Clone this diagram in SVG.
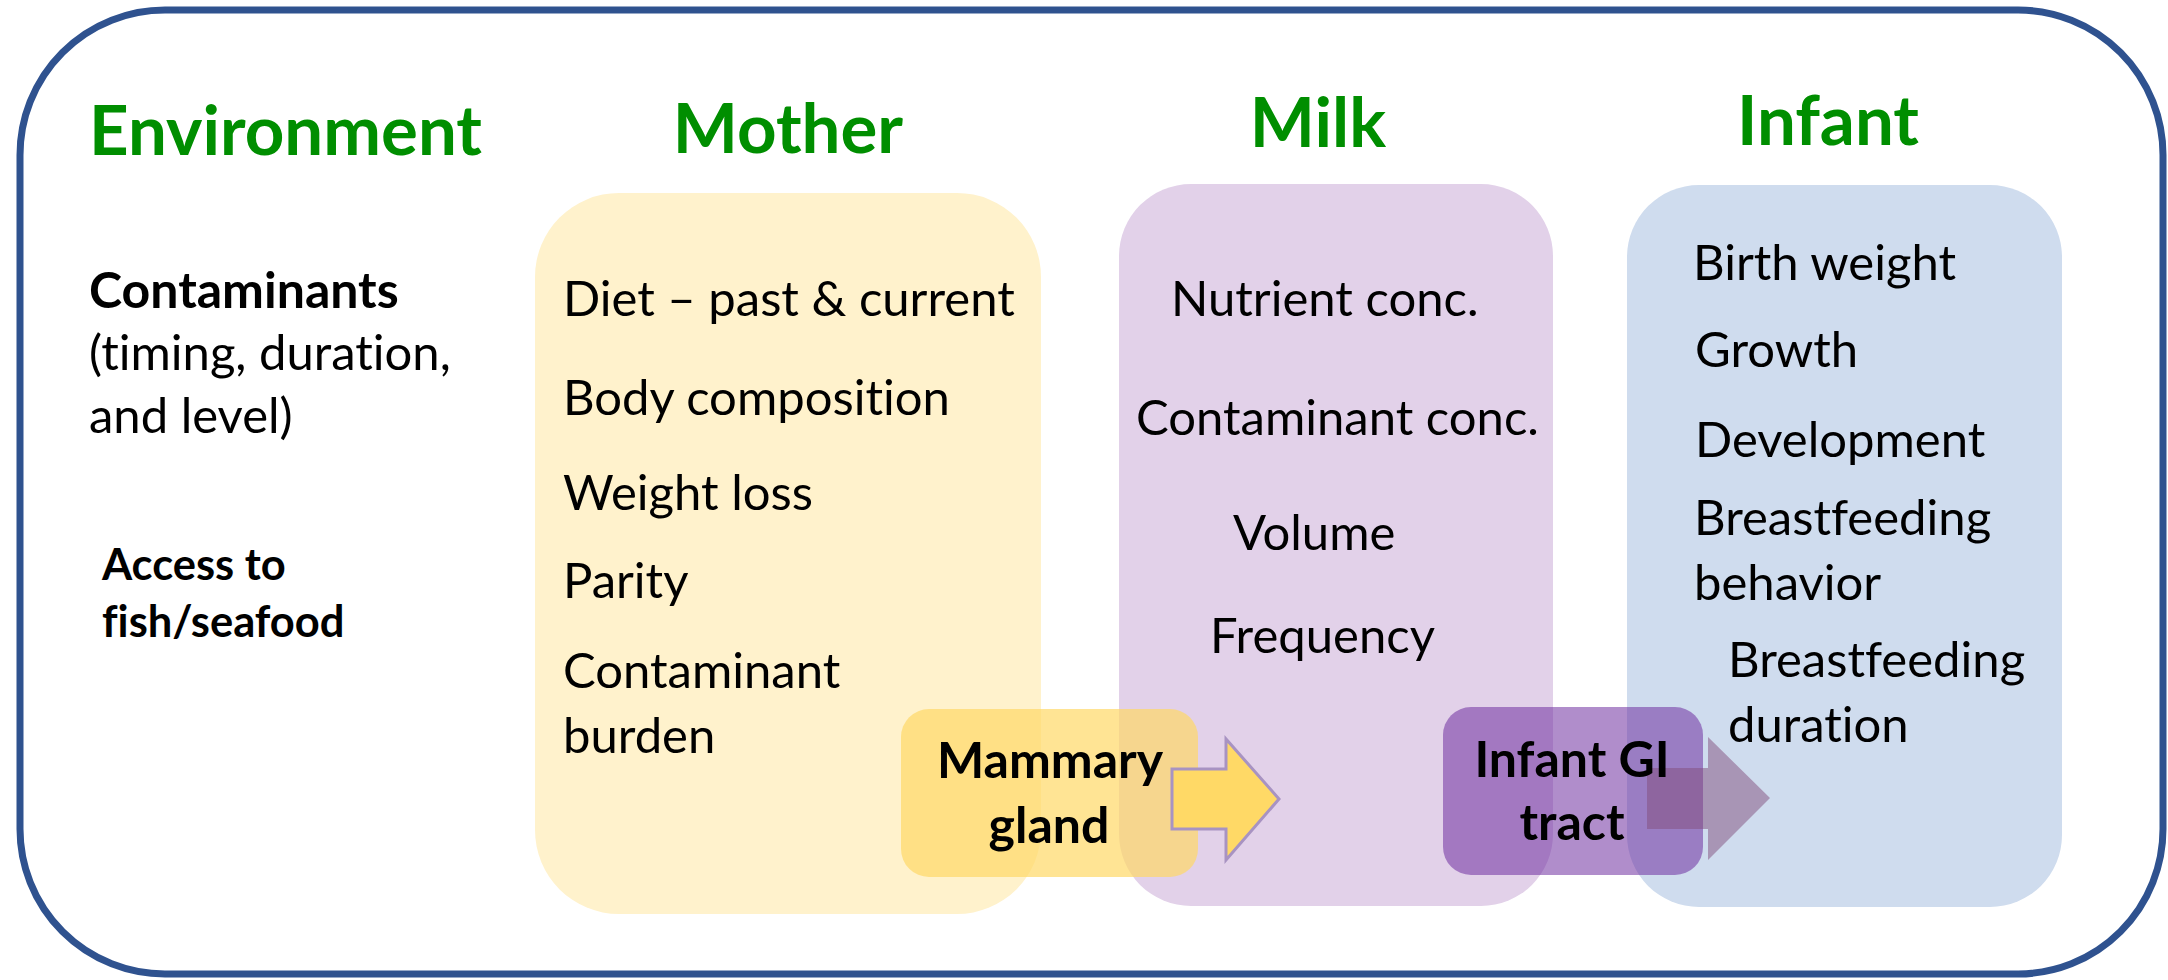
<svg xmlns="http://www.w3.org/2000/svg" width="2168" height="980" viewBox="0 0 2168 980">
<style>
text{font-family:Lato,"Liberation Sans",sans-serif;font-variant-ligatures:none;font-feature-settings:"liga" 0}
.h{font-weight:700;font-size:69px;fill:#008E00}
.t{font-size:49px;fill:#000}
.b{font-weight:700;font-size:50px;fill:#000}
.s{font-weight:700;font-size:43.5px;fill:#000}
.c{text-anchor:middle}
</style>
<rect x="20" y="10" width="2143" height="964" rx="145" fill="#fff" stroke="#2F528F" stroke-width="7"/>
<g id="environment">
<text class="h" x="89" y="155">Environment</text>
<text class="b" x="89" y="308">Contaminants</text>
<text class="t" x="89" y="370">(timing, duration,</text>
<text class="t" x="89" y="433">and level)</text>
<text class="s" x="102" y="580">Access to</text>
<text class="s" x="102" y="637">fish/seafood</text>
</g>
<g id="mother">
<text class="h c" x="788" y="153">Mother</text>
<rect x="535" y="193" width="506" height="721" rx="84" fill="#FFF2CC"/>
<text class="t" x="563" y="316">Diet – past &amp; current</text>
<text class="t" x="563" y="415">Body composition</text>
<text class="t" x="563" y="510">Weight loss</text>
<text class="t" x="563" y="598">Parity</text>
<text class="t" x="563" y="688">Contaminant</text>
<text class="t" x="563" y="753">burden</text>
</g>
<g id="milk">
<text class="h c" x="1318" y="147">Milk</text>
<rect x="1119" y="184" width="434" height="722" rx="72" fill="#E2D1E9"/>
<text class="t" x="1171" y="316">Nutrient conc.</text>
<text class="t" x="1136" y="435">Contaminant conc.</text>
<text class="t" x="1233" y="550">Volume</text>
<text class="t" x="1210" y="653">Frequency</text>
</g>
<g id="infant">
<text class="h c" x="1828" y="145">Infant</text>
<rect x="1627" y="185" width="435" height="722" rx="72" fill="#CFDCEE"/>
<text class="t" x="1693" y="280">Birth weight</text>
<text class="t" x="1695" y="367">Growth</text>
<text class="t" x="1695" y="457">Development</text>
<text class="t" x="1694" y="535">Breastfeeding</text>
<text class="t" x="1694" y="600">behavior</text>
<text class="t" x="1728" y="677">Breastfeeding</text>
<text class="t" x="1728" y="742">duration</text>
</g>
<g id="mammary">
<rect x="901" y="709" width="297" height="168" rx="28" fill="#FFD966" fill-opacity="0.7"/>
</g>
<g id="gi">
<rect x="1443" y="707" width="260" height="168" rx="28" fill="#7030A0" fill-opacity="0.55"/>
</g>
<g id="connectors">
<polygon points="1172,769 1226,769 1226,739 1279,799 1226,860 1226,829 1172,829" fill="#FFD966" stroke="#A893C2" stroke-width="3"/>
<polygon points="1647,768 1708,768 1708,737 1770,798 1708,860 1708,829 1647,829" fill="#824E7C" fill-opacity="0.5"/>
</g>
<g id="labels">
<text class="b c" x="1050" y="778">Mammary</text>
<text class="b c" x="1049" y="843">gland</text>
<text class="b c" x="1572" y="777">Infant GI</text>
<text class="b c" x="1572" y="840">tract</text>
</g>
</svg>
